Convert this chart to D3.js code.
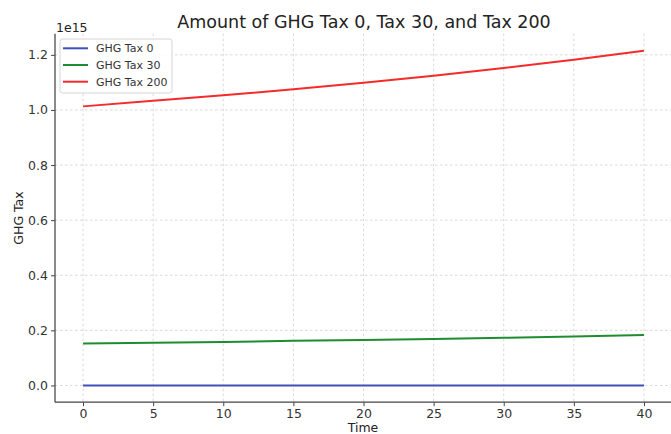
<!DOCTYPE html>
<html><head><meta charset="utf-8">
<script src="https://cdn.jsdelivr.net/npm/d3@7"></script>
<style>html,body{margin:0;padding:0;background:#fff;}svg{display:block;font-family:"DejaVu Sans",sans-serif;}</style>
</head><body>
<svg id="c" width="671" height="434"></svg>
<script>
const years = [0, 5, 10, 15, 20, 25, 30, 35, 40];
const tax0 = [0, 0, 0, 0, 0, 0, 0, 0, 0];
const tax30 = [0.152e15, 0.155e15, 0.158e15, 0.162e15, 0.165e15, 0.169e15, 0.173e15, 0.178e15, 0.183e15];
const tax200 = [1.013e15, 1.033e15, 1.053e15, 1.075e15, 1.099e15, 1.124e15, 1.152e15, 1.182e15, 1.215e15];
const xTicks = [0, 5, 10, 15, 20, 25, 30, 35, 40];
const yTicks = [0, 0.2, 0.4, 0.6, 0.8, 1.0, 1.2];
const seriesNames = ["GHG Tax 0", "GHG Tax 30", "GHG Tax 200"];
const seriesColors = ["#4050b8", "#1f8c2f", "#f52a2a"];
const seriesData = [tax0, tax30, tax200];

const svg = d3.select("#c");
const L = 55, R = 672, T = 33.7, B = 402.2;
const x = d3.scaleLinear().domain([-2, 42]).range([L, R]);
const y = d3.scaleLinear().domain([-0.0608, 1.2768]).range([B, T]);
const scale = 1e15;

// grid
const g = svg.append("g");
g.selectAll(".vg").data(xTicks).enter().append("line")
  .attr("x1", d => x(d)).attr("x2", d => x(d)).attr("y1", T).attr("y2", B)
  .attr("stroke", "#cfcfcf").attr("stroke-width", 0.8).attr("stroke-dasharray", "2.5,2.5");
g.selectAll(".hg").data(yTicks).enter().append("line")
  .attr("x1", L).attr("x2", R).attr("y1", d => y(d)).attr("y2", d => y(d))
  .attr("stroke", "#cfcfcf").attr("stroke-width", 0.8).attr("stroke-dasharray", "2.5,2.5");

// lines
const line = d3.line().x((d, i) => x(years[i])).y(d => y(d / scale));
seriesData.forEach((s, k) => {
  svg.append("path").datum(s).attr("d", line).attr("fill", "none")
    .attr("stroke", seriesColors[k]).attr("stroke-width", 2);
});

// axes
const xAxis = d3.axisBottom(x).tickValues(xTicks).tickSize(4).tickPadding(3).tickFormat(d3.format("d"));
const yAxis = d3.axisLeft(y).tickValues(yTicks).tickSize(4).tickPadding(3).tickFormat(d3.format(".1f"));
const gx = svg.append("g").attr("transform", `translate(0,${B})`).call(xAxis);
const gy = svg.append("g").attr("transform", `translate(${L},0)`).call(yAxis);
[gx, gy].forEach(a => {
  a.select(".domain").remove();
  a.selectAll("line").attr("stroke", "#444").attr("stroke-width", 1);
  a.selectAll("text").attr("fill", "#333").style("font-size", "12.5px").style("font-family", "DejaVu Sans");
});
svg.append("line").attr("x1", L).attr("x2", L).attr("y1", T).attr("y2", B).attr("stroke", "#444").attr("stroke-width", 1.25);
svg.append("line").attr("x1", L).attr("x2", R).attr("y1", B).attr("y2", B).attr("stroke", "#444").attr("stroke-width", 1.25);

// texts
svg.append("text").attr("x", 364).attr("y", 28).attr("text-anchor", "middle")
  .style("font-size", "17.5px").attr("fill", "#222").text("Amount of GHG Tax 0, Tax 30, and Tax 200");
svg.append("text").attr("x", 56).attr("y", 31.5).style("font-size", "12.5px").attr("fill", "#222").text("1e15");
svg.append("text").attr("x", 363).attr("y", 432).attr("text-anchor", "middle")
  .style("font-size", "12.5px").attr("fill", "#222").text("Time");
svg.append("text").attr("transform", "translate(23,218) rotate(-90)").attr("text-anchor", "middle")
  .style("font-size", "12.5px").attr("fill", "#222").text("GHG Tax");

// legend
const lg = svg.append("g");
lg.append("rect").attr("x", 60).attr("y", 39).attr("width", 112).attr("height", 54).attr("rx", 2.5)
  .attr("fill", "#fff").attr("fill-opacity", 0.85).attr("stroke", "#d5d5d5").attr("stroke-width", 1);
seriesNames.forEach((n, k) => {
  const yy = 48.3 + k * 16.7;
  lg.append("line").attr("x1", 63).attr("x2", 88).attr("y1", yy).attr("y2", yy)
    .attr("stroke", seriesColors[k]).attr("stroke-width", 2);
  lg.append("text").attr("x", 96).attr("y", yy + 4).style("font-size", "11px").attr("fill", "#333").text(n);
});
</script>
</body></html>
